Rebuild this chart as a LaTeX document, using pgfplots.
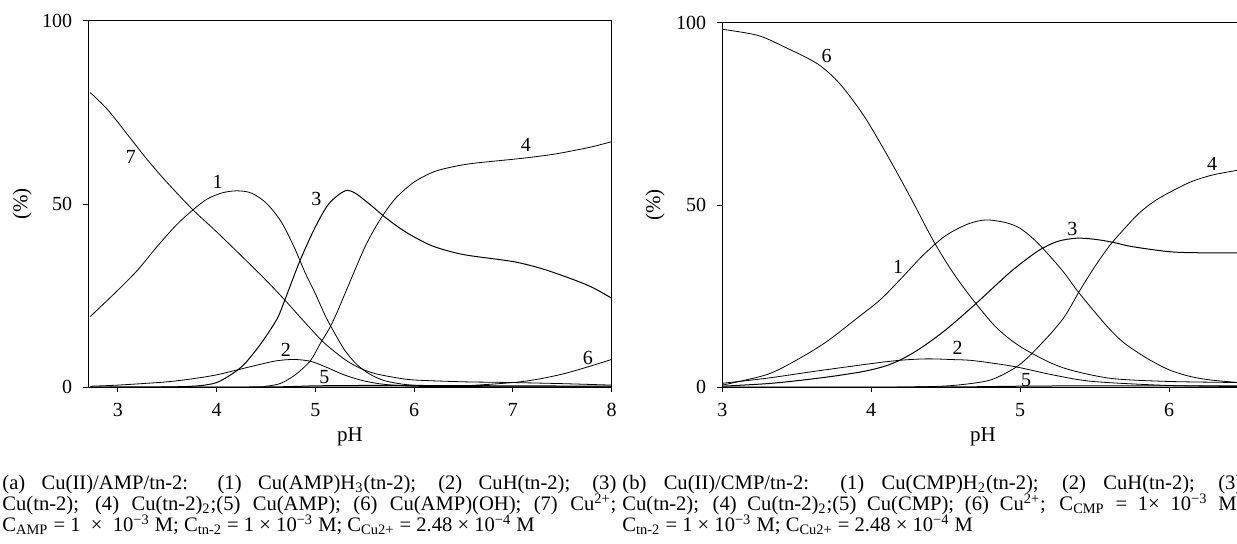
\documentclass[border=0pt]{standalone}
\usepackage{pgfplots}
\pgfplotsset{compat=1.18}
\usepackage{fontspec}
\setmainfont{Liberation Serif}

\begin{document}
\begin{tikzpicture}[x=1pt,y=1pt]
\useasboundingbox (0pt,0pt) rectangle (618.5pt,271.5pt);
\clip (0pt,0pt) rectangle (618.5pt,271.5pt);
\tikzset{lab/.style={font=\fontsize{10}{12}\selectfont, inner sep=0pt}}
\pgfplotsset{
  myax/.style={
    scale only axis,
    ymin=0, ymax=100,
    ytick={0,50,100},
    tick align=outside,
    xtick pos=bottom, ytick pos=left,
    major tick length=2.5pt,
    tick style={line width=0.5pt, black},
    axis line style={line width=0.6pt},
    every tick label/.append style={font=\fontsize{10}{12}\selectfont},
    xticklabel style={yshift=-2pt},
    yticklabel style={xshift=-2pt},
    /pgf/number format/assume math mode=true,
    xlabel={pH}, ylabel={(\%)},
    xlabel style={at={(axis description cs:0.5,0)}, anchor=center, yshift=-25pt, font=\fontsize{10.5}{12}\selectfont},
    ylabel style={at={(axis description cs:0,0.5)}, anchor=center, font=\fontsize{10.5}{12}\selectfont},
    cycle list={{black, solid, line width=0.5pt}},
    every axis plot/.append style={smooth, no markers},
  },
}
% ---------------- panel (a)
\begin{axis}[myax, at={(44.15pt,77.85pt)}, anchor=south west,
  width=261.7pt, height=183.3pt, xmin=2.7, xmax=8, xtick={3,4,5,6,7,8},
  ylabel style={yshift=33pt}]
% 1
\addplot coordinates {(2.72,19.3) (3.0,26.5) (3.2,32) (3.4,38.5) (3.6,44.5) (3.76,48.4) (3.9,51.3) (4.05,53.0) (4.2,53.6) (4.35,53.0) (4.5,50.3) (4.65,45.3) (4.78,38.5) (4.9,31.0) (5.0,25.5) (5.1,19.5) (5.2,14.5) (5.3,10) (5.42,6.2) (5.55,3.6) (5.7,1.8) (5.9,0.8) (6.1,0.4) (6.5,0.2) (8,0.1)};
% 7
\addplot coordinates {(2.72,80.4) (2.9,75.6) (3.13,67.8) (3.3,62.0) (3.5,55.8) (3.76,48.4) (4.0,42.4) (4.29,34.8) (4.5,29.2) (4.69,23.8) (4.9,17.5) (5.07,12.6) (5.2,9.6) (5.33,7.0) (5.47,5.0) (5.61,3.7) (5.8,2.7) (6.0,2.0) (6.5,1.5) (7.0,1.3) (7.5,1.0) (8.0,0.6)};
% 3
\addplot coordinates {(2.72,0) (3.5,0.1) (3.81,0.4) (4.0,1.3) (4.17,3.9) (4.29,6.6) (4.45,12) (4.61,18.6) (4.69,23.8) (4.84,34.3) (5.0,43.8) (5.14,50.2) (5.3,53.6) (5.4,53.0) (5.5,51) (5.6,48.8) (5.7,46.5) (5.85,43.5) (6.0,41) (6.2,38.4) (6.5,36.2) (7.0,34.3) (7.3,32.3) (7.6,29.5) (7.8,27.3) (8.0,24.3)};
% 4
\addplot coordinates {(2.72,0) (4.3,0) (4.5,0.3) (4.65,1.1) (4.8,3.5) (4.95,7.3) (5.05,12) (5.14,16) (5.22,20.5) (5.3,25.6) (5.4,32) (5.5,38.2) (5.6,43.3) (5.7,47.6) (5.82,51.8) (6.0,56.0) (6.2,58.8) (6.4,60.2) (6.6,61.1) (7.0,62.2) (7.2,62.8) (7.42,63.6) (7.6,64.5) (7.8,65.6) (8.0,67)};
% 2
\addplot coordinates {(2.72,0.3) (3.0,0.6) (3.5,1.5) (3.8,2.5) (4.0,3.4) (4.17,4.5) (4.4,6.0) (4.6,7.2) (4.78,7.6) (4.95,7.1) (5.1,5.6) (5.3,3.3) (5.5,1.7) (5.7,0.8) (6.0,0.3) (6.5,0.1) (8,0.05)};
% 5
\addplot coordinates {(2.72,0.05) (4.5,0.1) (5.0,0.4) (5.5,0.5) (6.0,0.5) (7,0.4) (8,0.3)};
% 6
\addplot coordinates {(2.72,0) (6.0,0.1) (6.5,0.4) (7.0,1.3) (7.25,2.2) (7.5,3.6) (7.75,5.5) (8.0,7.6)};
\node[lab] at (axis cs:3.13,62.9) {7};
\node[lab] at (axis cs:4.01,56) {1};
\node[lab] at (axis cs:5.01,51.3) {3};
\node[lab] at (axis cs:7.13,66) {4};
\node[lab] at (axis cs:4.70,10.2) {2};
\node[lab] at (axis cs:5.09,2.9) {5};
\node[lab] at (axis cs:7.76,7.9) {6};
\end{axis}
% ---------------- panel (b)
\begin{axis}[myax, at={(361.15pt,77.85pt)}, anchor=south west,
  width=260.6pt, height=182.3pt, xmin=3, xmax=6.5, xtick={3,4,5,6},
  ylabel style={yshift=33.6pt}]
% 6
\addplot coordinates {(3.0,98.2) (3.24,96.5) (3.42,93.3) (3.64,88.7) (3.79,83.2) (3.95,74.5) (4.11,63.5) (4.27,51.6) (4.42,40.0) (4.56,30.8) (4.71,22.6) (4.85,16.0) (5.0,11.2) (5.2,6.8) (5.36,4.5) (5.62,2.4) (6.0,1.6) (6.5,1.3)};
% 1
\addplot coordinates {(3.0,0.6) (3.3,3.5) (3.5,7.5) (3.7,12.5) (3.9,18.8) (4.06,24.0) (4.2,29.8) (4.35,36.3) (4.5,41.6) (4.65,44.8) (4.77,45.9) (4.9,45.2) (5.0,43.6) (5.12,39.5) (5.28,32.2) (5.38,26.7) (5.49,21.2) (5.6,16) (5.7,12.1) (5.85,8) (6.0,4.8) (6.14,3) (6.28,2.0) (6.5,1.2)};
% 3
\addplot coordinates {(3.0,0.3) (3.3,1.0) (3.5,1.8) (3.72,2.9) (3.9,4.0) (4.0,4.8) (4.1,5.9) (4.19,7.4) (4.28,9.4) (4.37,11.8) (4.47,14.8) (4.56,17.8) (4.71,23.2) (4.85,28.5) (4.96,32.5) (5.12,37.4) (5.25,40.0) (5.38,40.9) (5.5,40.6) (5.62,39.8) (5.75,38.6) (6.0,37.2) (6.2,36.9) (6.5,36.9)};
% 2
\addplot coordinates {(3.0,1.1) (3.3,2.5) (3.64,4.5) (4.0,6.5) (4.19,7.4) (4.37,7.8) (4.55,7.6) (4.69,7.3) (4.96,5.7) (5.22,3.4) (5.49,1.6) (6.0,0.5) (6.5,0.2)};
% 4
\addplot coordinates {(3.0,0) (4.0,0) (4.4,0.2) (4.6,0.7) (4.8,2.0) (4.96,5.2) (5.06,8.5) (5.2,14.5) (5.3,19.5) (5.4,26.5) (5.5,33) (5.6,38.8) (5.7,43.5) (5.8,47.8) (5.9,51) (6.0,53.4) (6.15,56.4) (6.3,58.3) (6.5,59.8)};
% 5
\addplot coordinates {(3,0.05) (4.5,0.1) (5.0,0.3) (5.5,0.4) (6.5,0.4)};
\node[lab] at (axis cs:3.70,91) {6};
\node[lab] at (axis cs:4.18,33.1) {1};
\node[lab] at (axis cs:5.35,43.3) {3};
\node[lab] at (axis cs:6.29,61.4) {4};
\node[lab] at (axis cs:4.58,10.7) {2};
\node[lab] at (axis cs:5.04,2.0) {5};
\end{axis}
% ---------------- captions
\begin{scope}[every node/.style={inner sep=0pt, anchor=base west, font=\fontsize{10.3}{12}\selectfont}]
\node at (1pt,27pt) {\makebox[307pt][s]{(a) Cu(II)/AMP/tn-2: (1) Cu(AMP)H\textsubscript{3}(tn-2); (2) CuH(tn-2); (3)}};
\node at (1pt,16.3pt) {\makebox[307pt][s]{Cu(tn-2); (4) Cu(tn-2)\textsubscript{2};(5) Cu(AMP); (6) Cu(AMP)(OH); (7) Cu\textsuperscript{2+};}};
\node at (1pt,5.6pt) {C\textsubscript{AMP} = 1 \ × \ 10\textsuperscript{−3} M; C\textsubscript{tn-2} = 1 × 10\textsuperscript{−3} M; C\textsubscript{Cu2+} = 2.48 × 10\textsuperscript{−4} M};
\node at (311pt,27pt) {\makebox[310pt][s]{(b) Cu(II)/CMP/tn-2: (1) Cu(CMP)H\textsubscript{2}(tn-2); (2) CuH(tn-2); (3)}};
\node at (311pt,16.3pt) {\makebox[310pt][s]{Cu(tn-2); (4) Cu(tn-2)\textsubscript{2};(5) Cu(CMP); (6) Cu\textsuperscript{2+}; C\textsubscript{CMP} = 1× 10\textsuperscript{−3} M;}};
\node at (311pt,5.6pt) {C\textsubscript{tn-2} = 1 × 10\textsuperscript{−3} M; C\textsubscript{Cu2+} = 2.48 × 10\textsuperscript{−4} M};
\end{scope}
\end{tikzpicture}
\end{document}
